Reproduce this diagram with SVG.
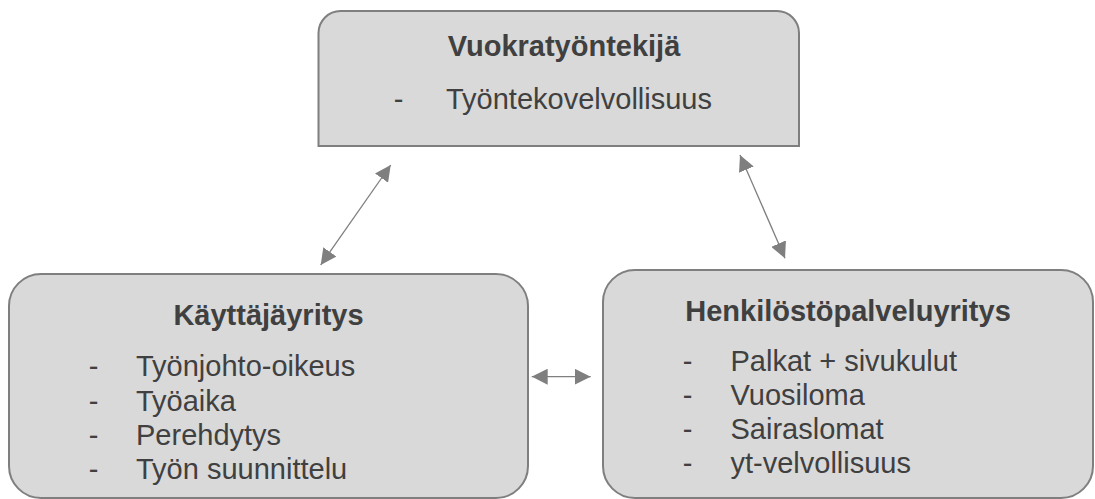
<svg xmlns="http://www.w3.org/2000/svg" width="1095" height="499" viewBox="0 0 1095 499">
<style>
.box{fill:#d9d9d9;stroke:#7f7f7f;stroke-width:2}
.t{font-family:"Liberation Sans",Arial,sans-serif;font-size:29px;fill:#404040}
.b{font-weight:bold}
.c{text-anchor:middle}
.conn{stroke:#7f7f7f;stroke-width:1.3;fill:none;marker-start:url(#ah);marker-end:url(#ah)}
</style>
<defs>
<marker id="ah" markerUnits="userSpaceOnUse" markerWidth="16" markerHeight="16" refX="16" refY="8" orient="auto-start-reverse" viewBox="0 0 16 16">
<path d="M0,0 L16,8 L0,16 z" fill="#7f7f7f"/>
</marker>
</defs>
<rect width="1095" height="499" fill="#ffffff"/>
<g id="vuokratyontekija">
<path class="box" d="M318.5,146 L318.5,33 A22,22 0 0 1 340.5,11 L777,11 A22,22 0 0 1 799,33 L799,146 Z"/>
<text class="t b c" x="564" y="56">Vuokratyöntekijä</text>
<text class="t" x="393.7" y="109">-</text>
<text class="t" x="446" y="109">Työntekovelvollisuus</text>
</g>
<g id="kayttajayritys">
<rect class="box" x="9" y="274" width="519" height="224" rx="32" ry="32"/>
<text class="t b c" x="268.5" y="325">Käyttäjäyritys</text>
<text class="t" x="88.7" y="376.3">-</text>
<text class="t" x="136" y="376.3">Työnjohto-oikeus</text>
<text class="t" x="88.7" y="410.7">-</text>
<text class="t" x="136" y="410.7">Työaika</text>
<text class="t" x="88.7" y="444.5">-</text>
<text class="t" x="136" y="444.5">Perehdytys</text>
<text class="t" x="88.7" y="479">-</text>
<text class="t" x="136" y="479">Työn suunnittelu</text>
</g>
<g id="henkilostopalveluyritys">
<rect class="box" x="603" y="270" width="490" height="228" rx="32" ry="32"/>
<text class="t b c" x="848" y="321">Henkilöstöpalveluyritys</text>
<text class="t" x="682.7" y="370.7">-</text>
<text class="t" x="730.5" y="370.7">Palkat + sivukulut</text>
<text class="t" x="682.7" y="405">-</text>
<text class="t" x="730.5" y="405">Vuosiloma</text>
<text class="t" x="682.7" y="439.2">-</text>
<text class="t" x="730.5" y="439.2">Sairaslomat</text>
<text class="t" x="682.7" y="473">-</text>
<text class="t" x="730.5" y="473">yt-velvollisuus</text>
</g>
<g id="connectors">
<line class="conn" x1="320.7" y1="265" x2="390.7" y2="165"/>
<line class="conn" x1="740" y1="155" x2="785" y2="258.3"/>
<line class="conn" x1="531.7" y1="376.7" x2="590.7" y2="376.7"/>
</g>
</svg>
